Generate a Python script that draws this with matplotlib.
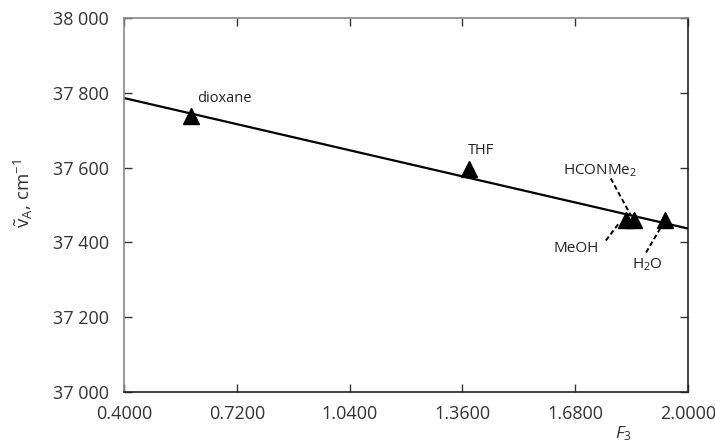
import matplotlib
matplotlib.use('Agg')
import matplotlib.pyplot as plt
from matplotlib.ticker import FuncFormatter

plt.rcParams['font.family'] = ['Open Sans', 'DejaVu Sans']
plt.rcParams['mathtext.fontset'] = 'custom'
plt.rcParams['mathtext.rm'] = 'Open Sans'
plt.rcParams['mathtext.it'] = 'Open Sans:italic'

# solvents: F3 vs band position
solvents = ['dioxane', 'THF', 'MeOH', 'HCONMe2', 'H2O']
f3 = [0.59, 1.38, 1.824, 1.846, 1.935]
nu = [37737, 37597, 37459, 37459, 37459]

# fitted line end points
fit_x = [0.4, 2.0]
fit_y = [37786, 37437]

xticks = [0.4, 0.72, 1.04, 1.36, 1.68, 2.0]
yticks = [37000, 37200, 37400, 37600, 37800, 38000]

fig = plt.figure(figsize=(7.15, 4.43), dpi=100)
ax = fig.add_axes([0.1734, 0.1151, 0.7888, 0.8443])

ax.plot(fit_x, fit_y, color='black', lw=1.6, zorder=2)
ax.plot(f3, nu, '^', color='black', ms=11, zorder=3)

# labels
ax.text(0.607, 37784, 'dioxane', fontsize=10.5, color='#222222', va='center')
ax.text(1.377, 37645, 'THF', fontsize=10.5, color='#222222', va='center')
ax.text(1.75, 37592, r'HCONMe$_2$', fontsize=11, color='#222222', va='center', ha='center')
ax.text(1.684, 37384, 'MeOH', fontsize=11, color='#222222', va='center', ha='center')
ax.text(1.886, 37339, r'H$_2$O', fontsize=11, color='#222222', va='center', ha='center')

# dashed leaders
ax.plot([1.781, 1.838], [37571, 37472], ls=(0, (2.5, 1.5)), color='black', lw=1.4)
ax.plot([1.767, 1.804], [37405, 37451], ls=(0, (2.5, 1.5)), color='black', lw=1.4)
ax.plot([1.881, 1.923], [37373, 37440], ls=(0, (2.5, 1.5)), color='black', lw=1.4)

ax.set_xlim(0.4, 2.0)
ax.set_ylim(37000, 38000)
ax.set_xticks(xticks)
ax.set_yticks(yticks)
ax.xaxis.set_major_formatter(FuncFormatter(lambda v, p: '%.4f' % v))
ax.yaxis.set_major_formatter(FuncFormatter(lambda v, p: '{:,}'.format(int(round(v))).replace(',', ' ')))
ax.tick_params(direction='in', length=5.5, width=1, top=True, right=True,
               labelsize=13, colors='#333333', pad=11)
ax.tick_params(axis='x', pad=9)
for s in ['left', 'top']:
    ax.spines[s].set_color('#888888')
for s in ['bottom', 'right']:
    ax.spines[s].set_color('#222222')
for s in ax.spines.values():
    s.set_linewidth(1.2)

ax.set_ylabel(r'$\tilde{\mathrm{v}}_\mathrm{A}$, cm$^{-1}$', fontsize=13.5, color='#333333')
ax.set_xlabel(r'$\mathit{F}_3$', fontsize=12.5, color='#333333')
ax.xaxis.set_label_coords(0.886, -0.085)
ax.yaxis.set_label_coords(-0.158, 0.53)

fig.savefig('out.png', dpi=100)
